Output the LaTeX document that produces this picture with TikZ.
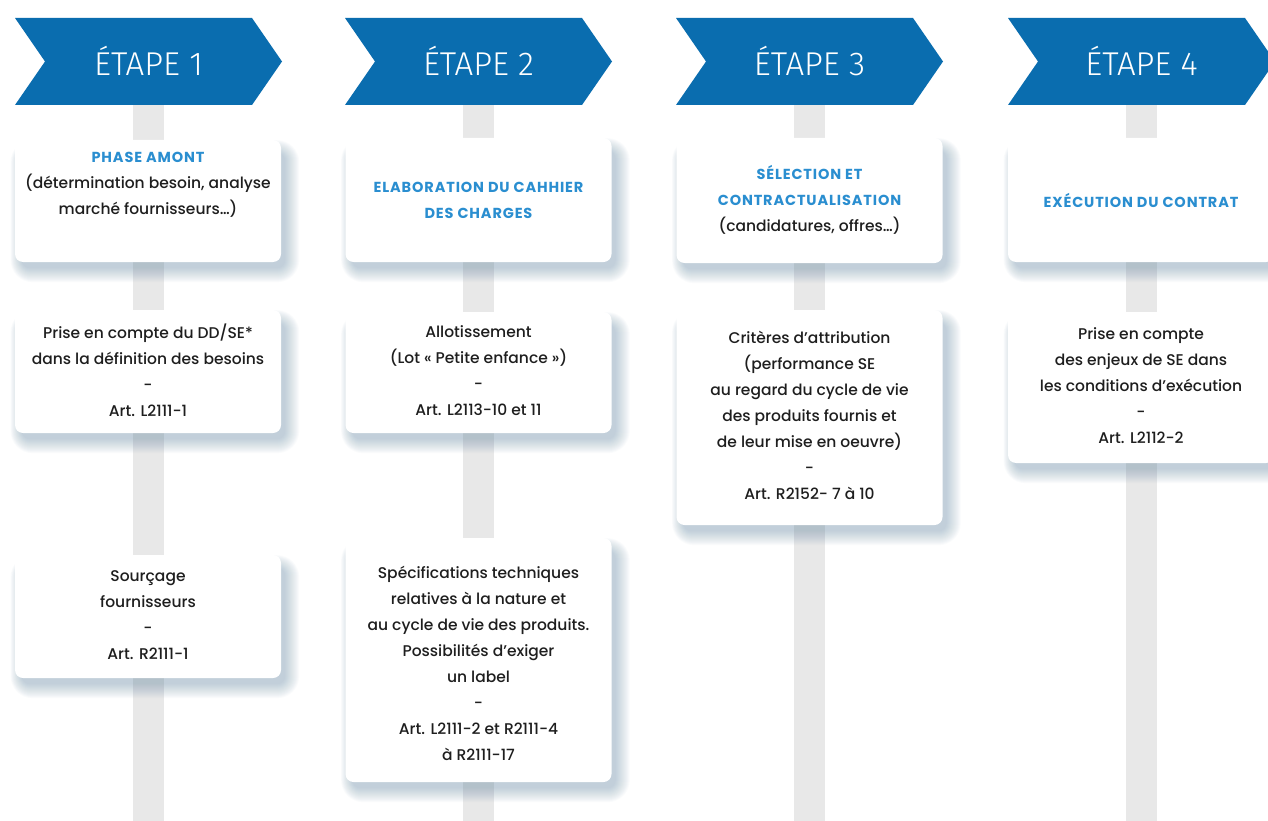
\documentclass[tikz,border=0pt]{standalone}
\usepackage{fontspec}
\setmainfont{Poppins}[UprightFont=* Medium, BoldFont=* Bold]
\newfontfamily\etapefont{Fira Sans Light}
\usetikzlibrary{calc}
\pgfdeclarelayer{bg}
\pgfdeclarelayer{bars}
\pgfdeclarelayer{shadows}
\pgfsetlayers{bg,bars,shadows,main}
\definecolor{chev}{HTML}{0A6DAF}
\definecolor{ttl}{HTML}{2A8ED0}
\definecolor{barc}{HTML}{E8E8E8}
\definecolor{shd}{HTML}{5E86A3}
\definecolor{txtc}{HTML}{1E1E1E}
\newcommand\hd[1]{{\color{ttl}\bfseries\addfontfeatures{LetterSpace=6}\fontsize{14.5}{26}\selectfont #1}}
\newcommand\cardshadow[1]{%
  \begin{pgfonlayer}{shadows}
  \foreach \i [evaluate=\i as \r using 8+\i] in {0,...,14}{
    \fill[shd, opacity=0.028, rounded corners=\r pt]
      ($(#1.north west)+(7-0.8*\i, 13-0.9*\i)$) rectangle ($(#1.south east)+(4+\i, 6+\i)$);
  }
  \end{pgfonlayer}}
\tikzset{
  chevron/.style={fill=chev},
  etape/.style={text=white, inner sep=0pt, font=\etapefont\fontsize{33}{40}\selectfont},
  card/.style={fill=white, rounded corners=8pt, minimum width=266pt, inner sep=0pt},
  body/.style={text=txtc, align=center, inner sep=0pt, font=\fontsize{15.5}{26}\selectfont},
  barfill/.style={fill=barc}
}
\begin{document}
\begin{tikzpicture}[x=1pt, y=-1pt]
\useasboundingbox (0,0) rectangle (1268,821);
\begin{pgfonlayer}{bg}
\fill[white] (0,0) rectangle (1268,821);
\end{pgfonlayer}

% chevrons, bars
\foreach \L/\n in {15/1, 345/2, 676/3, 1008/4}{
  \fill[chevron] (\L,18) -- (\L+237,18) -- (\L+267,61.5) -- (\L+237,105) -- (\L,105) -- (\L+30,61.5) -- cycle;
  \node[etape] (e\n) at (\L+133.5,61) {ÉTAPE \n};
  \begin{pgfonlayer}{bars}
    \fill[barfill] ($(e\n)+(-15.5,40)$) rectangle ($(e\n)+(15.5,780)$);
  \end{pgfonlayer}
}

% column 1
\node[card, minimum height=122pt] (b11) at (148,201) {};
\node[body] (t11) at (148,185) {\hd{PHASE AMONT}\\(détermination besoin, analyse\\marché fournisseurs…)};
\node[card, minimum height=123pt] (b12) at (148,371.5) {};
\node[body] (t12) at (148,370) {Prise en compte du DD/SE*\\dans la définition des besoins\\-\\Art. L2111-1};
\node[card, minimum height=123pt] (b13) at (148,616.5) {};
\node[body] (t13) at (148,615) {Sourçage\\fournisseurs\\-\\Art. R2111-1};

% column 2
\node[card, minimum height=124pt] (b21) at (478.5,200) {};
\node[body] (t21) at (478.5,200) {\hd{ELABORATION DU CAHHIER}\\\hd{DES CHARGES}};
\node[card, minimum height=121pt] (b22) at (478.5,372.5) {};
\node[body] (t22) at (478.5,371) {Allotissement\\(Lot «~Petite enfance~»)\\-\\Art. L2113-10 et 11};
\node[card, minimum height=244pt] (b23) at (478.5,660) {};
\node[body] (t23) at (478.5,663) {Spécifications techniques\\relatives à la nature et\\au cycle de vie des produits.\\Possibilités d’exiger\\un label\\-\\Art. L2111-2 et R2111-4\\à R2111-17};

% column 3
\node[card, minimum height=125pt] (b31) at (809.5,200.5) {};
\node[body] (t31) at (809.5,200) {\hd{SÉLECTION ET}\\\hd{CONTRACTUALISATION}\\(candidatures, offres…)};
\node[card, minimum height=215pt] (b32) at (809.5,417.5) {};
\node[body] (t32) at (809.5,415) {Critères d’attribution\\(performance SE\\au regard du cycle de vie\\des produits fournis et\\de leur mise en oeuvre)\\-\\Art. R2152- 7 à 10};

% column 4
\node[card, minimum height=124pt] (b41) at (1141,200) {};
\node[body] (t41) at (1141,200) {\hd{EXÉCUTION DU CONTRAT}};
\node[card, minimum height=151pt] (b42) at (1141,387.5) {};
\node[body] (t42) at (1141,386) {Prise en compte\\des enjeux de SE dans\\les conditions d’exécution\\-\\Art. L2112-2};

\foreach \b in {b11,b12,b13,b21,b22,b23,b31,b32,b41,b42}{\cardshadow{\b}}
\end{tikzpicture}
\end{document}
